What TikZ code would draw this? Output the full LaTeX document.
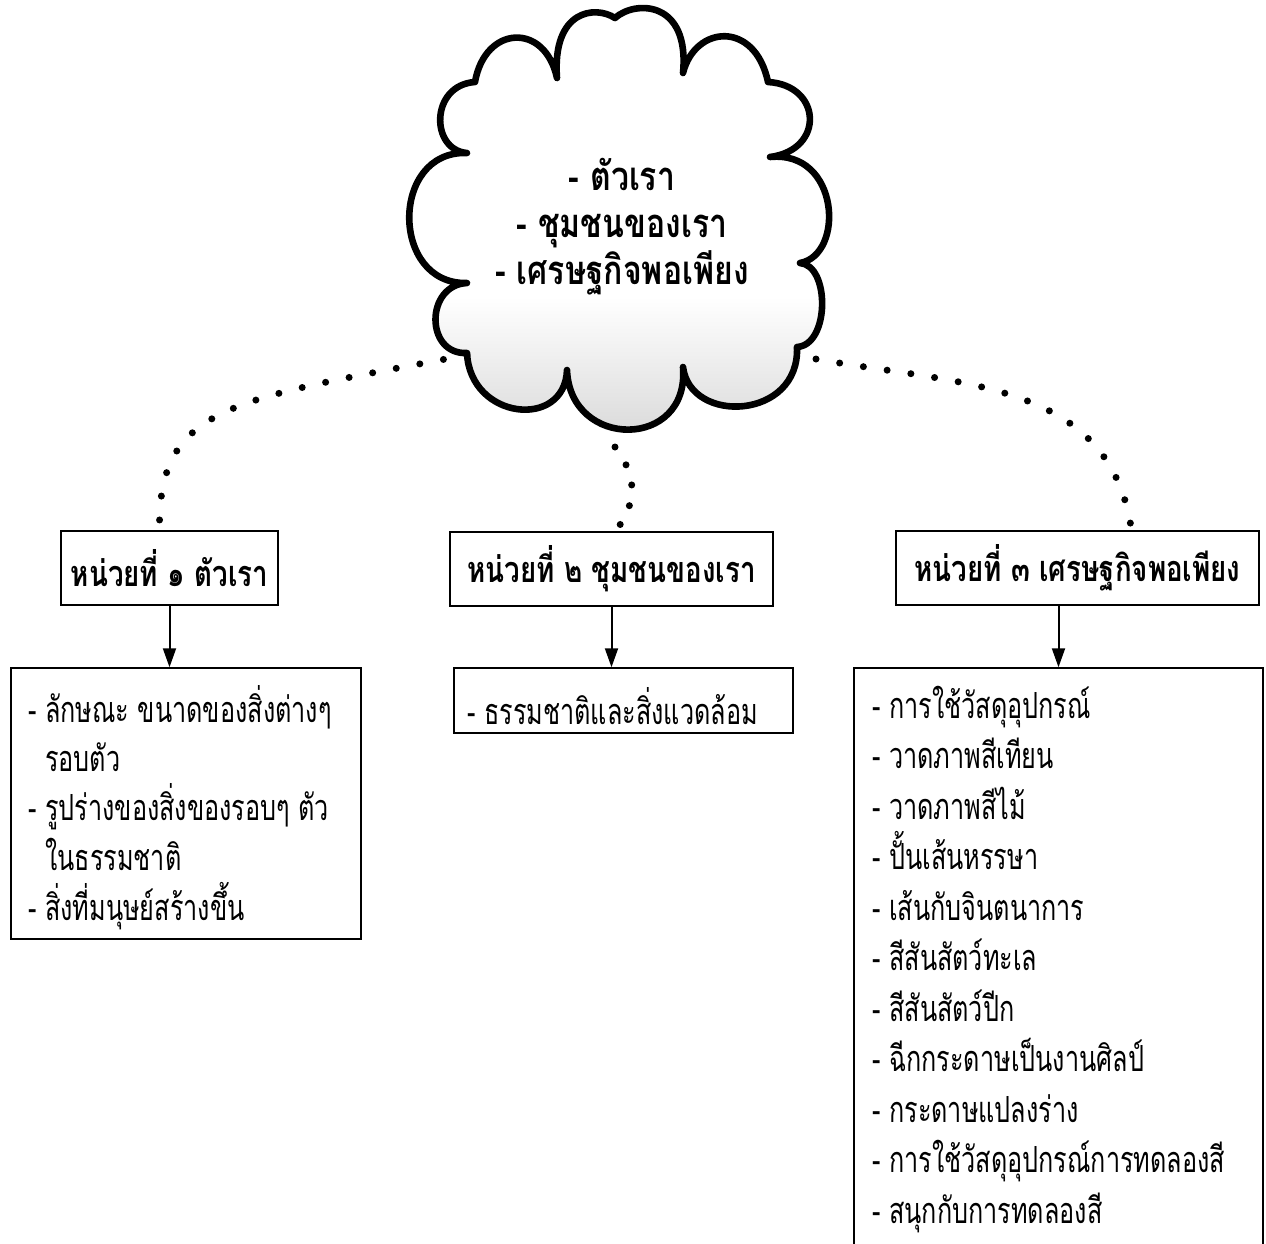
\documentclass[tikz,border=0pt]{standalone}
\usepackage{fontspec}
\usetikzlibrary{arrows.meta}
\newfontfamily\thaitext[Script=Thai,FakeStretch=0.70]{Loma}
\newfontfamily\thaihead[Script=Thai,FakeStretch=0.77]{Loma}
\newfontfamily\thaicloud[Script=Thai,FakeStretch=0.80]{Loma}
\pgfdeclareverticalshading{cloudshade}{100bp}{color(0bp)=(black!16); color(25bp)=(black!16); color(42bp)=(white); color(100bp)=(white)}
\tikzset{
  hbox/.style={draw, line width=0.75pt, minimum height=37pt, inner sep=0pt,
    font=\thaihead\bfseries\fontsize{18}{21}\selectfont},
  lbox/.style={draw, line width=0.75pt, inner sep=0pt},
  itemtxt/.style={anchor=base west, inner sep=0pt,
    font=\thaitext\fontsize{18}{22}\selectfont},
  cloudtxt/.style={align=center, inner sep=0pt,
    font=\thaicloud\bfseries\fontsize{20}{23.5}\selectfont},
  dotline/.style={line width=3.5pt, line cap=round, dash pattern=on 0pt off 12pt},
  dotlineshort/.style={dotline, dash pattern=on 0pt off 10.5pt},
  arr/.style={line width=1pt, -{Triangle[length=9.5pt,width=6.5pt]}},
  cloudline/.style={line width=3.3pt, line join=round, shading=cloudshade}
}
\begin{document}
\begin{tikzpicture}[x=0.5pt,y=-0.5pt]
\useasboundingbox (0,0) rectangle (1266,1244);
% cloud
\shadedraw[cloudline] (557,78)
  .. controls (552,10) and (595,5) .. (615,18)
  .. controls (635,0) and (690,0) .. (683,73)
  .. controls (695,25) and (755,20) .. (768,82)
  .. controls (822,85) and (825,150) .. (770,157)
  .. controls (840,150) and (845,255) .. (800,263)
  .. controls (830,265) and (830,345) .. (797,347)
  .. controls (800,420) and (690,425) .. (683,367)
  .. controls (690,450) and (570,450) .. (567,370)
  .. controls (565,430) and (470,420) .. (467,353)
  .. controls (425,355) and (425,285) .. (467,283)
  .. controls (390,285) and (390,150) .. (467,153)
  .. controls (430,150) and (430,85) .. (475,82)
  .. controls (485,25) and (545,22) .. (557,78) -- cycle;
\node[cloudtxt] (ct) at (622,227) {- ตัวเรา\\- ชุมชนของเรา\\- เศรษฐกิจพอเพียง};
\coordinate (cl) at (467,355);
\coordinate (cm) at (615,447);
\coordinate (cr) at (816,359);
% headers
\node[hbox, minimum width=108.5pt] (b1) at (169.5,568) {หน่วยที่ ๑ ตัวเรา};
\node[hbox, minimum width=161.5pt] (b2) at (611.5,569) {หน่วยที่ ๒ ชุมชนของเรา};
\node[hbox, minimum width=181.5pt] (b3) at (1077.5,568) {หน่วยที่ ๓ เศรษฐกิจพอเพียง};
% dotted connectors
\draw[dotline] (cl) .. controls (230,400) and (158,405) .. ([xshift=-5pt]b1.north);
\draw[dotlineshort] (cm) .. controls (640,480) and (635,505) .. ([xshift=2pt]b2.north);
\draw[dotline] (cr) .. controls (960,385) and (1110,380) .. ([xshift=27pt]b3.north);
% list boxes
\node[lbox, minimum width=175pt, minimum height=135.5pt] (l1) at (186,803.5) {};
\node[lbox, minimum width=169.5pt, minimum height=32.5pt] (l2) at (623.5,700.5) {};
\node[lbox, minimum width=204.5pt, minimum height=296pt] (l3) at (1058.5,964) {};
% arrows
\draw[arr] (b1.south) -- (b1.south |- l1.north);
\draw[arr] (b2.south) -- (b2.south |- l2.north);
\draw[arr] (b3.south -| l3.north) -- (l3.north);
% texts box 1
\node[itemtxt] (t1-1) at (28,722) {- ลักษณะ ขนาดของสิ่งต่างๆ};
\node[itemtxt] (t1-2) at (28,771) {\phantom{- }รอบตัว};
\node[itemtxt] (t1-3) at (28,820) {- รูปร่างของสิ่งของรอบๆ ตัว};
\node[itemtxt] (t1-4) at (28,870) {\phantom{- }ในธรรมชาติ};
\node[itemtxt] (t1-5) at (28,920) {- สิ่งที่มนุษย์สร้างขึ้น};
% text box 2
\node[itemtxt] (t2-1) at (467,724) {- ธรรมชาติและสิ่งแวดล้อม};
% texts box 3
\foreach \t [count=\i] in {- การใช้วัสดุอุปกรณ์, - วาดภาพสีเทียน, - วาดภาพสีไม้,
  - ปั้นเส้นหรรษา, - เส้นกับจินตนาการ, - สีสันสัตว์ทะเล, - สีสันสัตว์ปีก,
  - ฉีกกระดาษเป็นงานศิลป์, - กระดาษแปลงร่าง, - การใช้วัสดุอุปกรณ์การทดลองสี,
  - สนุกกับการทดลองสี}
  \node[itemtxt] (t3-\i) at ({872},{718+(\i-1)*50.5}) {\t};
\end{tikzpicture}
\end{document}
